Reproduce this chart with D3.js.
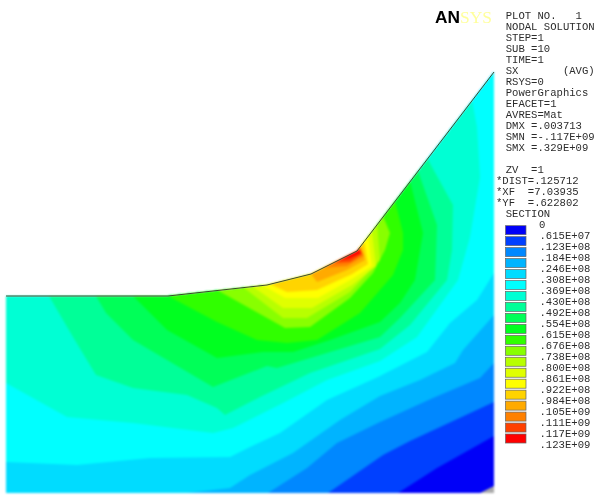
<!DOCTYPE html>
<html lang="en">
<head>
  <meta charset="UTF-8">
  <script src="https://d3js.org/d3.v7.min.js"></script>
  <style>
    html, body { margin: 0; padding: 0; background: #fff; overflow: hidden; }
    svg { display: block; }
    .plot { filter: blur(0.9px); }
    .notes { filter: blur(0.4px); }
    text { font-family: "Liberation Mono", monospace; font-size: 10.6px; fill: #2c2c2c; white-space: pre; }
  </style>
</head>
<body>
<svg id="chart" width="599" height="499"></svg>
<script>
  // legend: SX stress levels
  const legendLabels = ["0", ".615E+07", ".123E+08", ".184E+08", ".246E+08", ".308E+08", ".369E+08",
    ".430E+08", ".492E+08", ".554E+08", ".615E+08", ".676E+08", ".738E+08", ".800E+08", ".861E+08",
    ".922E+08", ".984E+08", ".105E+09", ".111E+09", ".117E+09", ".123E+09"];
  const bandColors = ["#0000f8", "#0040ff", "#0088ff", "#00b4ff", "#00dcff", "#00ffff", "#00ffd4",
    "#00ff98", "#00ff58", "#00ff20", "#30ff00", "#88ff00", "#b8ff00", "#e0ff00",
    "#ffff00", "#ffd400", "#ffaa00", "#ff8000", "#ff4000", "#ff0000"];

  const infoLines = ["PLOT NO.   1", "NODAL SOLUTION", "STEP=1", "SUB =10", "TIME=1", "SX       (AVG)",
    "RSYS=0", "PowerGraphics", "EFACET=1", "AVRES=Mat", "DMX =.003713", "SMN =-.117E+09", "SMX =.329E+09"];
  const viewLines = ["ZV  =1", "*DIST=.125712", "*XF  =7.03935", "*YF  =.622802", "SECTION"];

  // section outline, model units
  const surface = [[0, 197], [162, 197], [261, 208], [305, 219], [351, 242], [488, 421]];
  const base = [[488, 0], [0, 0]];

  // one polyline per legend level
  const level0 = [[474, 0], [488, 7]];
  const level1 = [[392, 0], [431, 25], [488, 57]];
  const level2 = [[322, 0], [377, 38], [404, 52], [488, 91]];
  const level3 = [[262, 0], [301, 25], [331, 50], [374, 71], [427, 95], [474, 115], [488, 130]];
  const level4 = [[181, 0], [224, 5], [244, 18], [287, 40], [334, 73], [374, 97], [414, 113], [449, 130], [457, 143], [488, 178]];
  const level5 = [[0, 31], [71, 28], [144, 35], [224, 36], [244, 46], [274, 60], [321, 93], [372, 116], [421, 141], [444, 170], [471, 193], [488, 220]];
  const level6 = [[0, 110], [61, 76], [127, 70], [207, 60], [227, 65], [277, 90], [321, 113], [374, 132], [411, 156], [452, 213], [464, 256], [474, 316], [471, 366], [466, 393]];
  const level7 = [[43, 197], [67, 156], [90, 118], [127, 105], [181, 98], [211, 85], [219, 78], [254, 96], [304, 120], [374, 144], [404, 168], [441, 213], [446, 243], [447, 288], [421, 335]];
  const level8 = [[90, 197], [100, 180], [127, 153], [207, 106], [261, 127], [271, 125], [374, 156], [394, 175], [429, 213], [430, 238], [431, 268], [412, 322]];
  const level9 = [[127, 197], [161, 163], [211, 135], [257, 141], [287, 141], [324, 153], [374, 171], [394, 190], [409, 213], [417, 260], [404, 312]];
  const level10 = [[162, 197], [211, 171], [251, 153], [281, 150], [311, 153], [354, 180], [387, 218], [397, 243], [397, 260], [389, 292]];
  const level11 = [[211, 203], [279, 165], [304, 166], [344, 195], [367, 220], [379, 243], [384, 260], [377, 277]];
  const level12 = [[237, 206], [277, 175], [301, 175], [344, 201], [374, 233], [371, 269]];
  const level13 = [[246, 207], [277, 185], [306, 185], [346, 208], [370, 227], [366, 262]];
  const level14 = [[256, 208], [279, 195], [312, 195], [346, 214], [366, 227], [362, 257]];
  const level15 = [[264, 209], [281, 201], [311, 203], [346, 219], [362, 229], [358, 252]];
  const level16 = [[305, 219], [311, 211], [341, 223], [359, 233], [355, 248]];
  const level17 = [[316, 225], [341, 227], [358, 237], [354, 246]];
  const level18 = [[326, 230], [344, 231], [356, 239], [353, 245]];
  const level19 = [[332, 233], [344, 235], [355, 240], [352, 244]];
  const contourLines = [level0, level1, level2, level3, level4, level5, level6, level7, level8, level9,
    level10, level11, level12, level13, level14, level15, level16, level17, level18, level19];

  const svg = d3.select("#chart");
  const x = d3.scaleLinear().domain([0, 488]).range([6, 494]);
  const y = d3.scaleLinear().domain([0, 421]).range([493, 72]);
  const line = d3.line().x(d => x(d[0])).y(d => y(d[1]));
  const topY = 440;

  svg.append("clipPath").attr("id", "section")
    .append("path").attr("d", line(surface.concat(base)) + "Z");

  const plotWrap = svg.append("g").attr("class", "plot");
  const plot = plotWrap.append("g").attr("clip-path", "url(#section)");
  plot.append("path").attr("d", line(surface.concat(base)) + "Z").attr("fill", "#aaa");

  // painter's order: each region is everything above its contour.
  // lines that start on the bottom edge also take the part of the section to their left
  function region(d) {
    const first = d[0], last = d[d.length - 1];
    const lead = first[1] === 0 ? [[-10, topY], [-10, 0]] : [[first[0], topY]];
    return line([...lead, ...d, [last[0], topY]]) + "Z";
  }

  plot.selectAll("path.band")
    .data(contourLines)
    .enter()
    .append("path")
    .attr("class", "band")
    .attr("d", region)
    .attr("fill", (d, i) => bandColors[i]);

  const notes = svg.append("g").attr("class", "notes");

  notes.append("path")
    .attr("d", line(surface))
    .attr("fill", "none")
    .attr("stroke", "#3c4a2c")
    .attr("stroke-width", 1);

  // logo
  notes.append("text").attr("x", 435).attr("y", 23)
    .attr("textLength", 25).attr("lengthAdjust", "spacingAndGlyphs")
    .style("font-family", "'Liberation Sans', sans-serif").style("font-weight", "bold")
    .style("font-size", "17px").style("fill", "#000").text("AN");
  notes.append("text").attr("x", 460).attr("y", 23)
    .attr("textLength", 32).attr("lengthAdjust", "spacingAndGlyphs")
    .style("font-family", "'Liberation Serif', serif")
    .style("font-size", "17px").style("fill", "#ffff9c").text("SYS");

  // info block
  const infoY = d3.scaleLinear().domain([0, 1]).range([15.7, 26.7]);
  notes.selectAll("text.info")
    .data(infoLines)
    .enter()
    .append("text")
    .attr("class", "info")
    .attr("x", 505.7)
    .attr("y", (d, i) => infoY(i))
    .attr("dy", "0.35em")
    .text(d => d);

  notes.selectAll("text.view")
    .data(viewLines)
    .enter()
    .append("text")
    .attr("class", "view")
    .attr("x", d => d[0] === "*" ? 496 : 505.7)
    .attr("y", (d, i) => infoY(i + 14.0))
    .attr("dy", "0.35em")
    .text(d => d);

  // legend
  const legendY = d3.scalePoint().domain(d3.range(legendLabels.length)).range([224.7, 444]);
  notes.selectAll("rect.swatch")
    .data(bandColors)
    .enter()
    .append("rect")
    .attr("class", "swatch")
    .attr("x", 505.5)
    .attr("y", (d, i) => (legendY(i) + legendY(i + 1)) / 2 - 4.5)
    .attr("width", 20.5)
    .attr("height", 9)
    .attr("fill", d => d)
    .attr("stroke", "#666")
    .attr("stroke-width", 0.7);

  notes.selectAll("text.label")
    .data(legendLabels)
    .enter()
    .append("text")
    .attr("class", "label")
    .attr("x", d => d === "0" ? 539 : 539.5)
    .attr("y", (d, i) => legendY(i))
    .attr("dy", "0.35em")
    .text(d => d);
</script>
</body>
</html>
